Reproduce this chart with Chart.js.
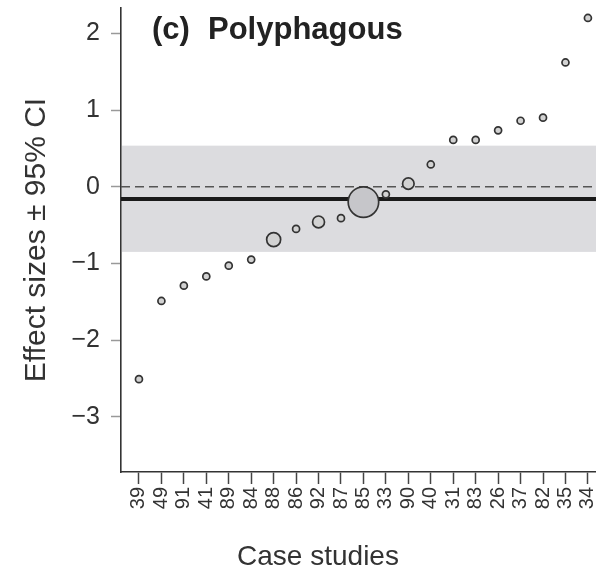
<!DOCTYPE html>
<html>
<head>
<meta charset="utf-8">
<script src="https://cdn.jsdelivr.net/npm/chart.js@4"></script>
<style>
  body { margin: 0; background: #fff; }
  #wrap { width: 596px; height: 571px; }
</style>
</head>
<body>
<div id="wrap"><canvas id="effect-chart"></canvas></div>
<script>
// case study ids, in plotted order
const studies = ["39", "49", "91", "41", "89", "84", "88", "86", "92", "87", "85",
                 "33", "90", "40", "31", "83", "26", "37", "82", "35", "34"];
// effect size per case study
const effects = [-2.51, -1.49, -1.29, -1.17, -1.03, -0.95, -0.69, -0.55, -0.46, -0.41, -0.20,
                 -0.10, 0.04, 0.29, 0.61, 0.61, 0.735, 0.86, 0.90, 1.62, 2.20];
// relative study weight (drawn as marker area)
const weights = [1, 1, 1, 1, 1, 1, 4, 1, 2.9, 1, 19,
                 1, 2.7, 1, 1, 1, 1, 1, 1, 1, 1];
// overall mean effect and its 95% CI
const meanEffect = -0.16;
const ciLow = -0.85;
const ciHigh = 0.535;
const yTicks = [-3, -2, -1, 0, 1, 2];

const FONT = "'Liberation Sans', Arial, sans-serif";

const points = effects.map((v, i) => ({ x: i, y: v }));
const radius = (c) => 3.5 * Math.sqrt(weights[c.dataIndex] || 1);

// chart.js reserves room for edge tick labels; this panel has none there
const noEdgePadding = (s) => {
    s.paddingTop = 0;
    s.paddingBottom = 0;
    s.paddingLeft = 0;
    s.paddingRight = 0;
};

const summaryBand = {
    id: 'summaryBand',
    beforeDatasetsDraw(chart) {
        const { ctx, chartArea, scales } = chart;
        const y = scales.y;
        ctx.save();
        // CI band
        ctx.fillStyle = '#dcdcdf';
        const top = y.getPixelForValue(ciHigh);
        const bot = y.getPixelForValue(ciLow);
        ctx.fillRect(chartArea.left + 1, top, chartArea.right - chartArea.left, bot - top);
        // zero line
        ctx.strokeStyle = '#555';
        ctx.lineWidth = 1.5;
        ctx.setLineDash([9, 5]);
        const y0 = y.getPixelForValue(0);
        ctx.beginPath();
        ctx.moveTo(chartArea.left, y0);
        ctx.lineTo(chartArea.right, y0);
        ctx.stroke();
        // mean effect
        ctx.setLineDash([]);
        ctx.strokeStyle = '#1a1a1a';
        ctx.lineWidth = 4;
        const ym = y.getPixelForValue(meanEffect);
        ctx.beginPath();
        ctx.moveTo(chartArea.left, ym);
        ctx.lineTo(chartArea.right, ym);
        ctx.stroke();
        ctx.restore();
    }
};

// panel label inside the plot, and the x title (sits left of centre in the original)
const panelText = {
    id: 'panelText',
    afterDraw(chart) {
        const { ctx, chartArea } = chart;
        ctx.save();
        ctx.fillStyle = '#222';
        ctx.font = "bold 31px " + FONT;
        ctx.textBaseline = 'alphabetic';
        ctx.fillText('(c)', chartArea.left + 31, 39);
        ctx.fillText('Polyphagous', chartArea.left + 87, 39);
        ctx.fillStyle = '#333';
        ctx.font = "28px " + FONT;
        ctx.textAlign = 'center';
        ctx.fillText('Case studies', chartArea.left + 197, 565);
        ctx.restore();
    }
};

new Chart(document.getElementById("effect-chart"), {
    type: 'scatter',
    data: {
        datasets: [{
            data: points,
            backgroundColor: (c) => c.dataIndex === 10 ? '#c6c6ca' : '#d2d2d2',
            borderColor: '#333',
            borderWidth: 1.7,
            pointRadius: radius,
            pointHoverRadius: radius,
            clip: false
        }]
    },
    options: {
        responsive: true,
        maintainAspectRatio: false,
        animation: false,
        layout: { autoPadding: false, padding: { top: 8, right: 0, left: 0, bottom: 0 } },
        plugins: {
            legend: { display: false },
            tooltip: { enabled: false }
        },
        scales: {
            x: {
                type: 'linear',
                min: -0.8,
                max: 20.36,
                afterBuildTicks: (s) => { s.ticks = studies.map((_, i) => ({ value: i })); },
                afterFit: (s) => { s.height = 99; noEdgePadding(s); },
                ticks: {
                    autoSkip: false,
                    minRotation: 90,
                    maxRotation: 90,
                    padding: 3,
                    color: '#333',
                    font: { family: FONT, size: 20 },
                    callback: (v) => studies[v]
                },
                grid: {
                    drawOnChartArea: false,
                    drawTicks: true,
                    tickLength: 12,
                    tickColor: '#444',
                    tickWidth: 1.5
                },
                border: { display: true, color: '#333', width: 1.6 },
                title: { display: false }
            },
            y: {
                min: -3.72,
                max: 2.33,
                afterBuildTicks: (s) => { s.ticks = yTicks.map((v) => ({ value: v })); },
                afterFit: (s) => { s.width = 121; noEdgePadding(s); },
                ticks: {
                    padding: 11,
                    color: '#333',
                    font: { family: FONT, size: 25 },
                    callback: (v) => String(v).replace('-', '\u2212')
                },
                grid: {
                    drawOnChartArea: false,
                    drawTicks: true,
                    tickLength: 10,
                    tickColor: '#999',
                    tickWidth: 1.5
                },
                border: { display: true, color: '#333', width: 1.6 },
                title: {
                    display: true,
                    text: 'Effect sizes \u00b1 95% CI',
                    color: '#333',
                    font: { family: FONT, size: 30 },
                    padding: { top: 19, bottom: 0 }
                }
            }
        }
    },
    plugins: [summaryBand, panelText]
});
</script>
</body>
</html>
